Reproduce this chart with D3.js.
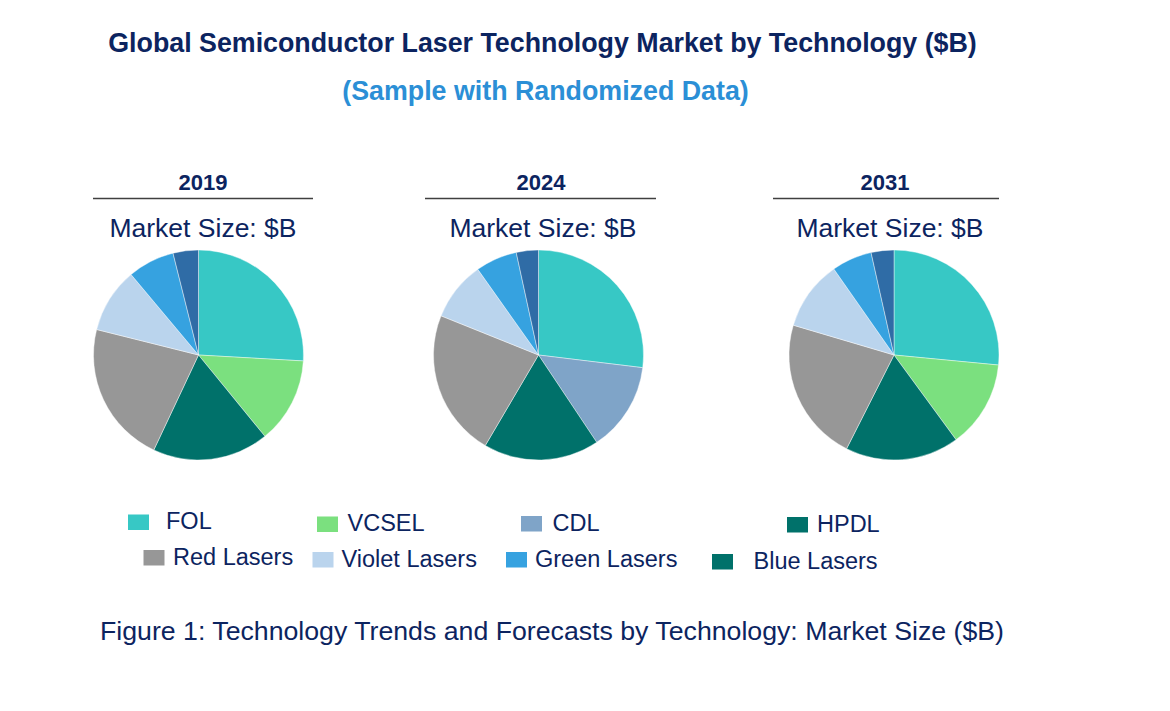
<!DOCTYPE html>
<html>
<head>
<meta charset="utf-8">
<script src="https://cdn.jsdelivr.net/npm/d3@7"></script>
<style>
  html, body { margin: 0; padding: 0; background: #fff; }
  svg { display: block; font-family: "Liberation Sans", Arial, sans-serif; }
</style>
</head>
<body>
<svg id="chart" width="1170" height="711"></svg>
<script>
// ---- Data ----
const categories = ["FOL", "VCSEL", "CDL", "HPDL", "Red Lasers", "Violet Lasers", "Green Lasers", "Blue Lasers"];
const years = ["2019", "2024", "2031"];
// share of market (%), in drawing order (clockwise from 12 o'clock)
const values2019 = [25.9, 13.2, 0, 17.9, 21.9, 10.0, 7.2, 3.9];
const values2024 = [26.9, 0, 13.7, 17.8, 22.6, 9.1, 6.4, 3.4];
const values2031 = [26.5, 13.4, 0, 17.5, 22.1, 10.7, 6.2, 3.5];
const seriesValues = [values2019, values2024, values2031];
const pieColors = ["#37c8c5", "#7be07f", "#7fa4c8", "#00716a", "#979797", "#bad4ed", "#36a2e0", "#2f6ca6"];
const legendColors = ["#37c8c5", "#7be07f", "#7fa4c8", "#00716a", "#979797", "#bad4ed", "#36a2e0", "#00716a"];
const titleText = "Global Semiconductor Laser Technology Market by Technology ($B)";
const subtitleText = "(Sample with Randomized Data)";
const pieLabel = "Market Size: $B";
const captionText = "Figure 1: Technology Trends and Forecasts by Technology: Market Size ($B)";

// ---- Layout ----
const svg = d3.select("#chart");
const navy = "#0c2460";

svg.append("text").attr("x", 542.5).attr("y", 51.5).attr("text-anchor", "middle")
  .attr("font-size", 26.8).attr("font-weight", "bold").attr("fill", navy).text(titleText);
svg.append("text").attr("x", 545.5).attr("y", 99.5).attr("text-anchor", "middle")
  .attr("font-size", 26.8).attr("font-weight", "bold").attr("fill", "#2b8fd6").text(subtitleText);

const panels = [
  { cx: 198.5, cy: 355, yearX: 203, lineX0: 93, lineX1: 313, labelX: 203 },
  { cx: 538.5, cy: 355, yearX: 541, lineX0: 425, lineX1: 656, labelX: 543 },
  { cx: 894, cy: 355, yearX: 885, lineX0: 773, lineX1: 999, labelX: 890 }
];
const radius = 105;

const pie = d3.pie().sort(null).value(d => d.v);
const arc = d3.arc().innerRadius(0).outerRadius(radius);

years.forEach((yr, i) => {
  const p = panels[i];
  const g = svg.append("g");
  g.append("text").attr("x", p.yearX).attr("y", 189.5).attr("text-anchor", "middle")
    .attr("font-size", 22).attr("font-weight", "bold").attr("fill", navy).text(yr);
  g.append("line").attr("x1", p.lineX0).attr("x2", p.lineX1).attr("y1", 198.5).attr("y2", 198.5)
    .attr("stroke", "#404040").attr("stroke-width", 1.5);
  g.append("text").attr("x", p.labelX).attr("y", 236.5).attr("text-anchor", "middle")
    .attr("font-size", 26.5).attr("fill", navy).text(pieLabel);

  const data = categories.map((c, k) => ({ c, v: seriesValues[i][k], color: pieColors[k] }));
  const pg = g.append("g").attr("transform", `translate(${p.cx},${p.cy})`);
  pg.selectAll("path").data(pie(data).filter(d => d.data.v > 0)).join("path")
    .attr("d", arc)
    .attr("fill", d => d.data.color)
    .attr("stroke", "#ffffff").attr("stroke-width", 0.6).attr("stroke-opacity", 0.7);
});

// ---- Legend ----
const legendPos = [
  { sx: 128, sy: 514.5, tx: 166, ty: 529 },
  { sx: 317, sy: 516.5, tx: 347.5, ty: 531 },
  { sx: 521, sy: 516, tx: 552.5, ty: 530.5 },
  { sx: 787, sy: 517, tx: 817, ty: 532 },
  { sx: 143.5, sy: 550, tx: 173, ty: 565 },
  { sx: 312.5, sy: 552, tx: 341.5, ty: 566.5 },
  { sx: 506, sy: 552, tx: 535, ty: 566.5 },
  { sx: 712, sy: 554, tx: 753.5, ty: 569 }
];
const lg = svg.append("g");
categories.forEach((c, k) => {
  const lp = legendPos[k];
  lg.append("rect").attr("x", lp.sx).attr("y", lp.sy).attr("width", 21).attr("height", 15.5)
    .attr("fill", legendColors[k]);
  lg.append("text").attr("x", lp.tx).attr("y", lp.ty).attr("font-size", 23.5)
    .attr("fill", navy).text(c);
});

svg.append("text").attr("x", 552).attr("y", 640).attr("text-anchor", "middle")
  .attr("font-size", 26.7).attr("fill", navy).text(captionText);
</script>
</body>
</html>
